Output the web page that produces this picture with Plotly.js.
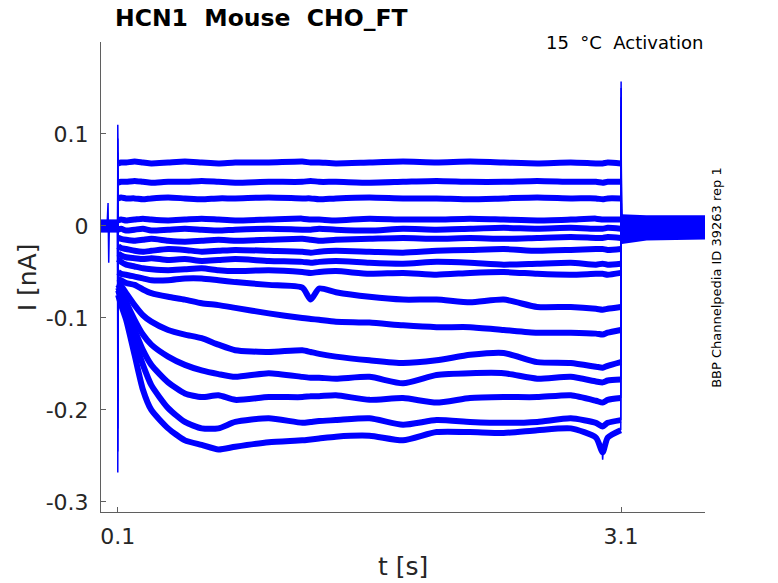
<!DOCTYPE html>
<html>
<head>
<meta charset="utf-8">
<script src="https://cdn.plot.ly/plotly-3.0.1.min.js"></script>
<style>
  body { margin: 0; background: #fff; }
  #chart { width: 778px; height: 583px; }
</style>
</head>
<body>
<div id="chart"></div>
<script>
/*
*/

var preT = [0, 0.0995];
var stepT = [0.102, 0.12, 0.15, 0.2, 0.25, 0.3, 0.4, 0.5, 0.6, 0.7, 0.8, 1.0, 1.2, 1.25, 1.3,
             1.4, 1.6, 1.8, 2.0, 2.2, 2.4, 2.6, 2.8, 2.95, 2.99, 3.02, 3.098];
var tailT = [3.102, 3.25, 3.6];

var s1 = [0.068,0.069,0.069,0.070,0.069,0.068,0.069,0.070,0.069,0.068,0.069,0.069,0.070,0.069,0.069,0.068,0.069,0.070,0.069,0.070,0.069,0.068,0.069,0.068,0.068,0.069,0.068];
var s2 = [0.047,0.048,0.048,0.049,0.048,0.047,0.048,0.048,0.049,0.048,0.047,0.048,0.048,0.049,0.048,0.048,0.047,0.048,0.049,0.048,0.048,0.049,0.048,0.048,0.047,0.048,0.048];
var s3 = [0.030,0.031,0.030,0.030,0.029,0.030,0.031,0.030,0.029,0.030,0.030,0.031,0.030,0.030,0.029,0.030,0.031,0.030,0.030,0.029,0.030,0.031,0.030,0.030,0.029,0.030,0.030];
var s4 = [0.006,0.007,0.006,0.007,0.008,0.007,0.006,0.007,0.008,0.007,0.006,0.007,0.008,0.007,0.007,0.006,0.008,0.007,0.007,0.008,0.007,0.006,0.007,0.008,0.007,0.007,0.007];
var s5 = [-0.004,-0.003,-0.005,-0.004,-0.003,-0.005,-0.004,-0.003,-0.004,-0.005,-0.004,-0.003,-0.004,-0.004,-0.003,-0.004,-0.005,-0.003,-0.004,-0.003,-0.002,-0.003,-0.002,-0.003,-0.003,-0.002,-0.003];
var s6 = [-0.013,-0.014,-0.015,-0.016,-0.015,-0.014,-0.016,-0.017,-0.016,-0.015,-0.016,-0.015,-0.014,-0.015,-0.016,-0.015,-0.014,-0.013,-0.014,-0.013,-0.014,-0.013,-0.012,-0.013,-0.013,-0.012,-0.013];
var s7 = [-0.022,-0.024,-0.025,-0.027,-0.028,-0.027,-0.025,-0.026,-0.028,-0.027,-0.026,-0.027,-0.028,-0.029,-0.028,-0.027,-0.028,-0.029,-0.027,-0.026,-0.025,-0.027,-0.026,-0.025,-0.025,-0.026,-0.025];
var s8 = [-0.030,-0.032,-0.034,-0.035,-0.036,-0.035,-0.037,-0.036,-0.038,-0.037,-0.036,-0.038,-0.039,-0.040,-0.039,-0.038,-0.040,-0.041,-0.039,-0.040,-0.042,-0.041,-0.040,-0.042,-0.041,-0.042,-0.041];
var s9 = [-0.036,-0.039,-0.042,-0.044,-0.046,-0.047,-0.048,-0.047,-0.046,-0.048,-0.049,-0.048,-0.050,-0.051,-0.050,-0.049,-0.052,-0.051,-0.053,-0.051,-0.050,-0.052,-0.053,-0.052,-0.052,-0.053,-0.051];
var s10 = [-0.050,-0.052,-0.053,-0.055,-0.057,-0.059,-0.059,-0.057,-0.057,-0.059,-0.061,-0.064,-0.067,-0.080,-0.068,-0.072,-0.077,-0.080,-0.080,-0.083,-0.080,-0.088,-0.088,-0.090,-0.091,-0.090,-0.088];
var s11 = [-0.057,-0.059,-0.062,-0.064,-0.069,-0.073,-0.077,-0.080,-0.084,-0.086,-0.089,-0.095,-0.100,-0.101,-0.102,-0.104,-0.105,-0.108,-0.110,-0.110,-0.113,-0.116,-0.116,-0.117,-0.118,-0.116,-0.113];
var s12 = [-0.062,-0.065,-0.073,-0.086,-0.097,-0.104,-0.113,-0.118,-0.122,-0.129,-0.135,-0.137,-0.135,-0.137,-0.139,-0.142,-0.146,-0.149,-0.146,-0.140,-0.138,-0.148,-0.149,-0.153,-0.154,-0.152,-0.148];
var s13 = [-0.064,-0.070,-0.083,-0.102,-0.118,-0.129,-0.142,-0.151,-0.157,-0.161,-0.164,-0.160,-0.164,-0.165,-0.165,-0.166,-0.164,-0.171,-0.162,-0.160,-0.160,-0.166,-0.164,-0.169,-0.170,-0.168,-0.167];
var s14 = [-0.067,-0.075,-0.091,-0.113,-0.135,-0.151,-0.170,-0.182,-0.186,-0.184,-0.189,-0.186,-0.186,-0.185,-0.185,-0.184,-0.189,-0.187,-0.192,-0.187,-0.186,-0.186,-0.184,-0.190,-0.192,-0.189,-0.187];
var s15 = [-0.070,-0.080,-0.097,-0.124,-0.151,-0.173,-0.198,-0.213,-0.220,-0.220,-0.213,-0.209,-0.214,-0.213,-0.212,-0.211,-0.209,-0.216,-0.211,-0.213,-0.214,-0.213,-0.209,-0.214,-0.218,-0.214,-0.211];
var s16 = [-0.075,-0.086,-0.102,-0.140,-0.178,-0.200,-0.220,-0.233,-0.238,-0.243,-0.240,-0.235,-0.233,-0.232,-0.231,-0.229,-0.228,-0.233,-0.224,-0.224,-0.225,-0.222,-0.220,-0.230,-0.246,-0.230,-0.222];

var sweeps = [s1, s2, s3, s4, s5, s6, s7, s8, s9, s10, s11, s12, s13, s14, s15, s16];

// holding level before the step, capacitive peaks at on/off, tail levels
var preLevel = [0.005, 0.004, 0.003, 0.002, 0.001, 0.0, -0.001, -0.002, -0.003, -0.004, -0.005, 0.004, -0.003, 0.002, -0.001, 0.0];
var onPeak = [0.110, 0.095, 0.080, 0.060, 0.040, 0.020, -0.050, -0.080, -0.100, -0.120, -0.150, -0.170, -0.190, -0.220, -0.245, -0.268];
var offPeak = [0.020, 0.030, 0.030, 0.040, 0.050, 0.060, 0.070, 0.080, 0.090, 0.100, 0.110, 0.120, 0.130, 0.140, 0.150, 0.157];
var tailStart = [0.010, 0.008, 0.006, 0.004, 0.002, 0.000, -0.002, -0.004, -0.006, -0.008, -0.010, -0.012, -0.014, -0.015, -0.016, -0.017];
var tailMid = [0.009, 0.008, 0.006, 0.004, 0.002, 0.000, -0.002, -0.003, -0.005, -0.006, -0.008, -0.009, -0.010, -0.011, -0.012, -0.013];
var tailEnd = [0.009, 0.008, 0.006, 0.004, 0.002, 0.000, -0.001, -0.003, -0.004, -0.006, -0.007, -0.008, -0.009, -0.010, -0.011, -0.012];

// artefacts: one in the holding period, a short spike near the end of sweep 16
var glitchT = [0.036, 0.042, 0.046, 0.050, 0.056];
var glitchI = [0.0, 0.025, -0.040, 0.004, 0.0];
var spikeT = [2.985, 2.99, 2.995];
var spikeI = [-0.238, -0.254, -0.238];

/*
 Plot
*/

var font = "DejaVu Sans";
var blue = "#0000ff";
var data = [];

function band(x, y, w, shape) {
  return {
    x: x,
    y: y,
    type: "scatter",
    mode: "lines",
    line: {color: blue, width: w, shape: shape || "linear", smoothing: 0.6},
    hoverinfo: "skip"
  };
}

sweeps.forEach(function(s, i) {
  var last = s.length - 1;
  // holding, step and tail segments (noisy, so drawn thick)
  data.push(band(preT, [preLevel[i], preLevel[i]], 4));
  data.push(band(stepT, s, 6, "spline"));
  data.push(band(tailT, [tailStart[i], tailMid[i], tailEnd[i]], 5));
  // capacitive transients at step on and off (thin)
  data.push(band([preT[1], 0.1, stepT[0]], [preLevel[i], onPeak[i], s[0]], 1.5));
  data.push(band([stepT[last], 3.1, tailT[0]], [s[last], offPeak[i], tailStart[i]], 1.5));
});

data.push(band(glitchT, glitchI, 1.5));
data.push(band(spikeT, spikeI, 1.5));

var axisStyle = {
  showgrid: false,
  zeroline: false,
  showline: true,
  linecolor: "#5f5f5f",
  linewidth: 1,
  ticks: "inside",
  ticklen: 5,
  tickcolor: "#5f5f5f",
  tickfont: {family: font, size: 22, color: "#262626"},
  mirror: false
};

var layout = {
  width: 778,
  height: 583,
  margin: {l: 101, r: 73, t: 42, b: 71},
  paper_bgcolor: "#ffffff",
  plot_bgcolor: "#ffffff",
  showlegend: false,
  title: {
    text: "HCN1\u00a0\u00a0Mouse\u00a0\u00a0CHO_FT",
    font: {family: font, size: 23.5, color: "#000000", weight: "bold"},
    xref: "container", yref: "container",
    x: 115 / 778, xanchor: "left",
    y: 1 - 18 / 583, yanchor: "middle"
  },
  xaxis: Object.assign({}, axisStyle, {
    range: [0, 3.6],
    tickvals: [0.1, 3.1],
    ticktext: ["0.1", "3.1"],
    ticklabelstandoff: 5
  }),
  yaxis: Object.assign({}, axisStyle, {
    range: [-0.3109, 0.2],
    tickvals: [-0.3, -0.2, -0.1, 0, 0.1],
    ticktext: ["-0.3", "-0.2", "-0.1", "0", "0.1"],
    ticklabelstandoff: 7
  }),
  annotations: [
    {
      text: "t [s]", xref: "paper", yref: "paper",
      x: 0.5, y: -0.117, xanchor: "center", yanchor: "middle",
      showarrow: false, font: {family: font, size: 25, color: "#262626"}
    },
    {
      text: "I [nA]", xref: "paper", yref: "paper",
      x: -0.122, y: 0.5, xanchor: "center", yanchor: "middle", textangle: -90,
      showarrow: false, font: {family: font, size: 25, color: "#262626"}
    },
    {
      text: "15\u00a0\u00a0°C\u00a0\u00a0Activation", xref: "paper", yref: "paper",
      x: 1, y: 1, xanchor: "right", yanchor: "middle",
      showarrow: false, font: {family: font, size: 18, color: "#000000"}
    },
    {
      text: "BBP Channelpedia ID 39263 rep 1", xref: "paper", yref: "paper",
      x: 1.018, y: 0.5, xanchor: "center", yanchor: "middle", textangle: -90,
      showarrow: false, font: {family: font, size: 13, color: "#000000"}
    }
  ]
};

var config = {
  displayModeBar: false,
  staticPlot: true
};

Plotly.newPlot("chart", data, layout, config);
</script>
</body>
</html>
